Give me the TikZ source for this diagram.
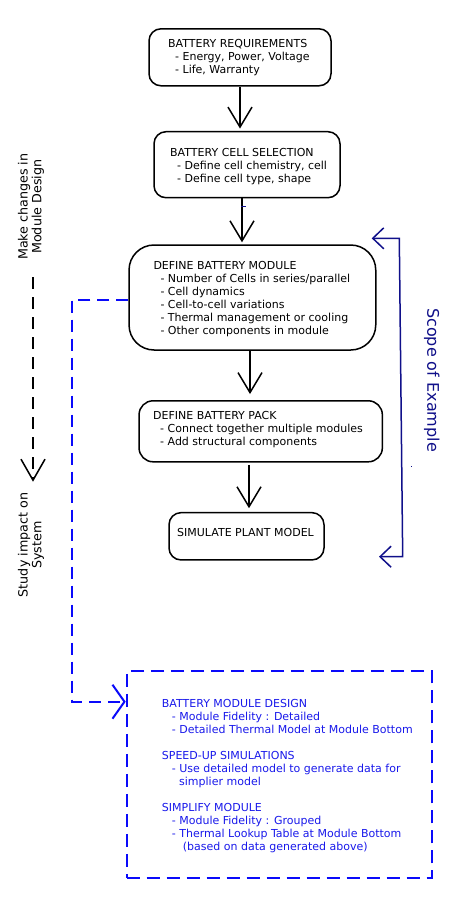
\documentclass[tikz,border=0pt]{standalone}
\usepackage{fontspec}
\setmainfont{DejaVu Sans}
\usetikzlibrary{arrows.meta}
\definecolor{navyc}{RGB}{16,16,138}
\definecolor{bluec}{RGB}{10,10,250}
\definecolor{bluetxt}{RGB}{25,25,235}
\begin{document}
\begin{tikzpicture}[x=1pt,y=-1pt,
  box/.style={draw=black, line width=1.5pt, rounded corners=12pt, inner sep=0pt},
  txt/.style={anchor=base west, inner sep=0pt, font=\fontsize{11}{13}\selectfont},
  side/.style={rotate=90, align=center, inner sep=0pt, font=\fontsize{12.7}{13.6}\selectfont},
  flow/.style={line width=1.5pt, -{Straight Barb[length=20pt,width=24pt,line width=1.5pt]}},
  bluedash/.style={bluec, line width=2pt, dash pattern=on 12pt off 7pt}
]
\useasboundingbox (0,0) rectangle (462,906);
\fill[white] (0,0) rectangle (462,906);

% boxes
\node[box, minimum width=182pt, minimum height=57pt] (req) at (240,57.3) {};
\node[box, minimum width=186pt, minimum height=66pt] (cell) at (247,164.7) {};
\node[box, rounded corners=25pt, minimum width=246.7pt, minimum height=105pt] (mod) at (252.4,297.5) {};
\node[box, rounded corners=14pt, minimum width=243.3pt, minimum height=61pt] (pack) at (260.7,431.3) {};
\node[box, minimum width=155pt, minimum height=47.3pt] (sim) at (246.5,536.3) {};
\node[draw=bluec, line width=2pt, dash pattern=on 13pt off 7pt, minimum width=305pt, minimum height=207.3pt, inner sep=0pt] (des) at (279.2,774.7) {};

% texts
\node[txt] (treq) at (168,47.3) {\begin{tabular}[t]{@{}l@{}}BATTERY REQUIREMENTS\\\hspace{7pt}- Energy, Power, Voltage\\\hspace{7pt}- Life, Warranty\end{tabular}};
\node[txt] (tcell) at (170,156) {\begin{tabular}[t]{@{}l@{}}BATTERY CELL SELECTION\\\hspace{7pt}- Define cell chemistry, cell\\\hspace{7pt}- Define cell type, shape\end{tabular}};
\node[txt] (tmod) at (153.3,269.3) {\begin{tabular}[t]{@{}l@{}}DEFINE BATTERY MODULE\\\hspace{7pt}- Number of Cells in series/parallel\\\hspace{7pt}- Cell dynamics\\\hspace{7pt}- Cell-to-cell variations\\\hspace{7pt}- Thermal management or cooling\\\hspace{7pt}- Other components in module\end{tabular}};
\node[txt] (tpack) at (153,419.3) {\begin{tabular}[t]{@{}l@{}}DEFINE BATTERY PACK\\\hspace{7pt}- Connect together multiple modules\\\hspace{7pt}- Add structural components\end{tabular}};
\node[txt] (tsim) at (177,536.7) {SIMULATE PLANT MODEL};
\node[txt, text=bluetxt] (tdes) at (161.7,707.3) {\begin{tabular}[t]{@{}l@{}}BATTERY MODULE DESIGN\\\hspace{10pt}- Module Fidelity : Detailed\\\hspace{10pt}- Detailed Thermal Model at Module Bottom\\[13pt]SPEED-UP SIMULATIONS\\\hspace{10pt}- Use detailed model to generate data for\\\hspace{17.3pt}simplier model\\[13pt]SIMPLIFY MODULE\\\hspace{10pt}- Module Fidelity : Grouped\\\hspace{10pt}- Thermal Lookup Table at Module Bottom\\\hspace{21pt}(based on data generated above)\end{tabular}};

% main flow
\draw[flow, shorten >=2.4pt] (req.south) -- (req.south |- cell.north);
\draw[flow, shorten >=2pt] ([xshift=-5pt]cell.south) -- ([xshift=-5pt]cell.south |- mod.north);
\draw[flow, shorten >=6pt] ([xshift=-2.4pt]mod.south) -- ([xshift=-2.4pt]mod.south |- pack.north);
\draw[flow, shorten <=2.3pt, shorten >=3.7pt] ([xshift=-11.7pt]pack.south) -- ([xshift=-11.7pt]pack.south |- sim.north);

% scope bracket
\coordinate (sTop) at (371.7,238.3);
\coordinate (sBot) at (379,556.7);
\draw[navyc, line width=1.5pt, {Straight Barb[length=11pt,width=21pt,line width=1.5pt]}-{Straight Barb[length=11pt,width=21pt,line width=1.5pt]}]
  (sTop) -- (399.3,238.3) -- (402.7,556.7) -- (sBot);
\node[rotate=-90, text=navyc, inner sep=0pt, font=\fontsize{16}{19}\selectfont] (scope) at (431.7,380) {Scope of Example};

% left labels and dashed arrow
\node[side] (mk) at (31,206.7) {Make changes in\\Module Design};
\node[side] (st) at (31,545) {Study impact on\\System};
\coordinate (lTop) at (33,277);
\coordinate (lBot) at (33,481.7);
\draw[line width=1.5pt, dash pattern=on 12pt off 8pt, -{Straight Barb[length=21pt,width=24pt,line width=1.5pt]}] (lTop) -- (lBot);

% blue dashed feedback
\draw[bluedash, -{Straight Barb[length=12pt,width=34pt,line width=2pt]}]
  ([yshift=-2.5pt]mod.west) -- (72,300) -- (72,701.7) -- ([yshift=73pt]des.west);

% small marks
\draw[navyc, line width=1pt] (241,206) -- (246,206);
\fill[navyc] (410.5,465.5) rectangle (412,467);
\end{tikzpicture}
\end{document}
